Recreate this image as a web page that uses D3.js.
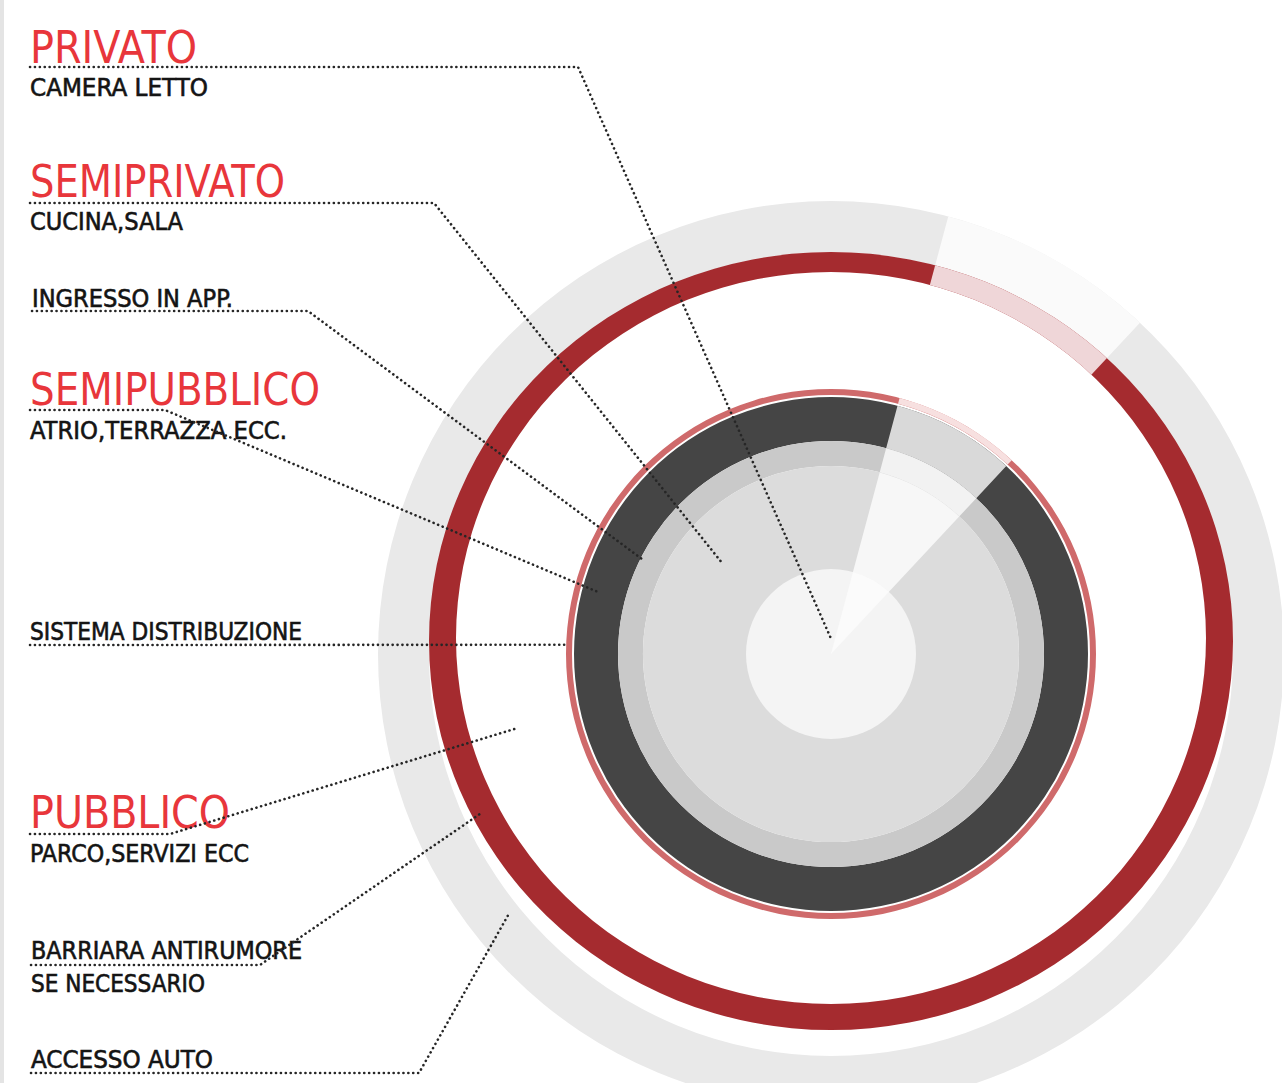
<!DOCTYPE html>
<html>
<head>
<meta charset="utf-8">
<script src="https://cdn.jsdelivr.net/npm/d3@7"></script>
<style>
  html, body { margin: 0; padding: 0; background: #ffffff; }
  svg { display: block; }
  text { font-family: "Liberation Sans Narrow", "DejaVu Sans Condensed", "Roboto", "Liberation Sans", sans-serif; }
</style>
</head>
<body>
<svg id="chart" width="1282" height="1083"></svg>
<script>
// ---------------- DATA ----------------
// Concentric zones (radial extent in plan units, outermost first)
const ringNames  = ["Accesso auto", "Barriera antirumore", "Sistema distribuzione", "Ingresso in app.", "Semipubblico (anello)", "Semiprivato", "Privato"];
const ringInner  = [402, 375, 259, 213, 188, 84, 0];
const ringOuter  = [453, 402, 265, 257, 213, 188, 85];
// vertical extent of the (slightly oval) noise-barrier ring: [outer, inner] half-heights and centre offsets
const barrierRy     = [389, 366];
const barrierOffset = [-13, -16];
// Angular opening (degrees clockwise from north) of the entrance sector
const gapAngles  = [15, 43];

// Annotation labels
const titles     = ["PRIVATO", "SEMIPRIVATO", "", "SEMIPUBBLICO", "", "PUBBLICO", "", ""];
const subtitles  = [["CAMERA LETTO"], ["CUCINA,SALA"], ["INGRESSO IN APP."], ["ATRIO,TERRAZZA ECC."], ["SISTEMA DISTRIBUZIONE"], ["PARCO,SERVIZI ECC"], ["BARRIARA ANTIRUMORE", "SE NECESSARIO"], ["ACCESSO AUTO"]];
// Where each leader line points to (polar: degrees clockwise from north, radius in plan units)
const pointerAngle  = [2.5, -50.1, -63.4, -75.1, -88.0, -103.3, -114.5, -128.9];
const pointerRadius = [14, 142, 210, 241, 264, 323, 386, 414];

// ---------------- STYLE / LAYOUT ----------------
const ringFill = ["#e9e9e9", "#a52b2f", "#cf6a6b", "#454545", "#c9c9c9", "#dcdcdc", "#f4f4f4"];
const gapFill  = ["#fafafa", "#efd6d8", "#f7e0e0", "#d9d9d9", "#f2f2f2", "#f7f7f7", "#fbfbfb"];
const center = {x: 831, y: 654};

const layout = [
  {x: 30, titleY: 63,  titleW: 167, subY: [96],       subW: [178],      lineY: 67,   elbowX: 578},
  {x: 30, titleY: 197, titleW: 255, subY: [229.5],    subW: [153],      lineY: 203,  elbowX: 434},
  {x: 32, titleY: 0,   titleW: 0,   subY: [307],      subW: [201],      lineY: 311,  elbowX: 308},
  {x: 30, titleY: 405, titleW: 290, subY: [438.5],    subW: [257],      lineY: 410,  elbowX: 165},
  {x: 30, titleY: 0,   titleW: 0,   subY: [640],      subW: [272],      lineY: 645,  elbowX: null},
  {x: 30, titleY: 828, titleW: 200, subY: [861.5],    subW: [219],      lineY: 834,  elbowX: 170},
  {x: 31, titleY: 0,   titleW: 0,   subY: [959, 992], subW: [271, 174], lineY: 965,  elbowX: 260},
  {x: 31, titleY: 0,   titleW: 0,   subY: [1068],     subW: [182],      lineY: 1073, elbowX: 419}
];

// ---------------- DRAW ----------------
const svg = d3.select("#chart");
const r = d3.scaleLinear().domain([0, 453]).range([0, 453]);
const ang = d3.scaleLinear().domain([0, 360]).range([0, 2 * Math.PI]);

// thin grey strip at left page edge
svg.append("rect").attr("x", 0).attr("y", 0).attr("width", 4).attr("height", 1083).attr("fill", "#e4e4e4");

const defs = svg.append("defs");
// entrance-sector wedge used as a clip for the oval ring (in the ring's own, centred, coordinates)
defs.append("clipPath").attr("id", "gapClip")
  .append("path")
  .attr("d", d3.arc()({innerRadius: 0, outerRadius: r(600), startAngle: ang(gapAngles[0]), endAngle: ang(gapAngles[1])}));

const g = svg.append("g").attr("transform", `translate(${center.x},${center.y})`);
const arc = d3.arc();

function ellipsePath(cx, cy, rx, ry) {
  return `M${cx - rx},${cy}A${rx},${ry} 0 1 0 ${cx + rx},${cy}A${rx},${ry} 0 1 0 ${cx - rx},${cy}Z`;
}

ringNames.forEach((name, i) => {
  if (i === 1) {
    // oval barrier ring
    const d = ellipsePath(0, barrierOffset[0], r(ringOuter[i]), r(barrierRy[0])) +
              ellipsePath(0, barrierOffset[1], r(ringInner[i]), r(barrierRy[1]));
    g.append("path").attr("d", d).attr("fill", ringFill[i]).attr("fill-rule", "evenodd");
    g.append("path").attr("d", d).attr("fill", gapFill[i]).attr("fill-rule", "evenodd")
      .attr("clip-path", "url(#gapClip)");
    return;
  }
  g.append("path")
    .attr("d", arc({innerRadius: r(ringInner[i]), outerRadius: r(ringOuter[i]), startAngle: 0, endAngle: 2 * Math.PI}))
    .attr("fill", ringFill[i]);
  g.append("path")
    .attr("d", arc({innerRadius: r(ringInner[i]), outerRadius: r(ringOuter[i]), startAngle: ang(gapAngles[0]), endAngle: ang(gapAngles[1])}))
    .attr("fill", gapFill[i]);
});

// labels
const tg = svg.append("g");
layout.forEach((L, i) => {
  if (titles[i]) {
    tg.append("text")
      .attr("x", L.x).attr("y", L.titleY)
      .attr("font-size", 45)
      .attr("fill", "#e8363b")
      .attr("textLength", L.titleW)
      .attr("lengthAdjust", "spacingAndGlyphs")
      .text(titles[i]);
  }
  subtitles[i].forEach((s, j) => {
    tg.append("text")
      .attr("x", L.x).attr("y", L.subY[j])
      .attr("font-size", 25)
      .attr("fill", "#141414")
      .attr("stroke", "#141414")
      .attr("stroke-width", 0.6)
      .attr("textLength", L.subW[j])
      .attr("lengthAdjust", "spacingAndGlyphs")
      .text(s);
  });
});

// leader lines (dotted)
const lg = svg.append("g");
const line = d3.line();
layout.forEach((L, i) => {
  const a = ang(pointerAngle[i]);
  const rr = r(pointerRadius[i]);
  const tx = center.x + rr * Math.sin(a);
  const ty = center.y - rr * Math.cos(a);
  const pts = [[L.x, L.lineY]];
  if (L.elbowX !== null) pts.push([L.elbowX, L.lineY]);
  pts.push([tx, ty]);
  lg.append("path")
    .attr("d", line(pts))
    .attr("fill", "none")
    .attr("stroke", "#262626")
    .attr("stroke-width", 2.6)
    .attr("stroke-linecap", "round")
    .attr("stroke-linejoin", "round")
    .attr("stroke-dasharray", "0.1 4.8");
});
</script>
</body>
</html>
